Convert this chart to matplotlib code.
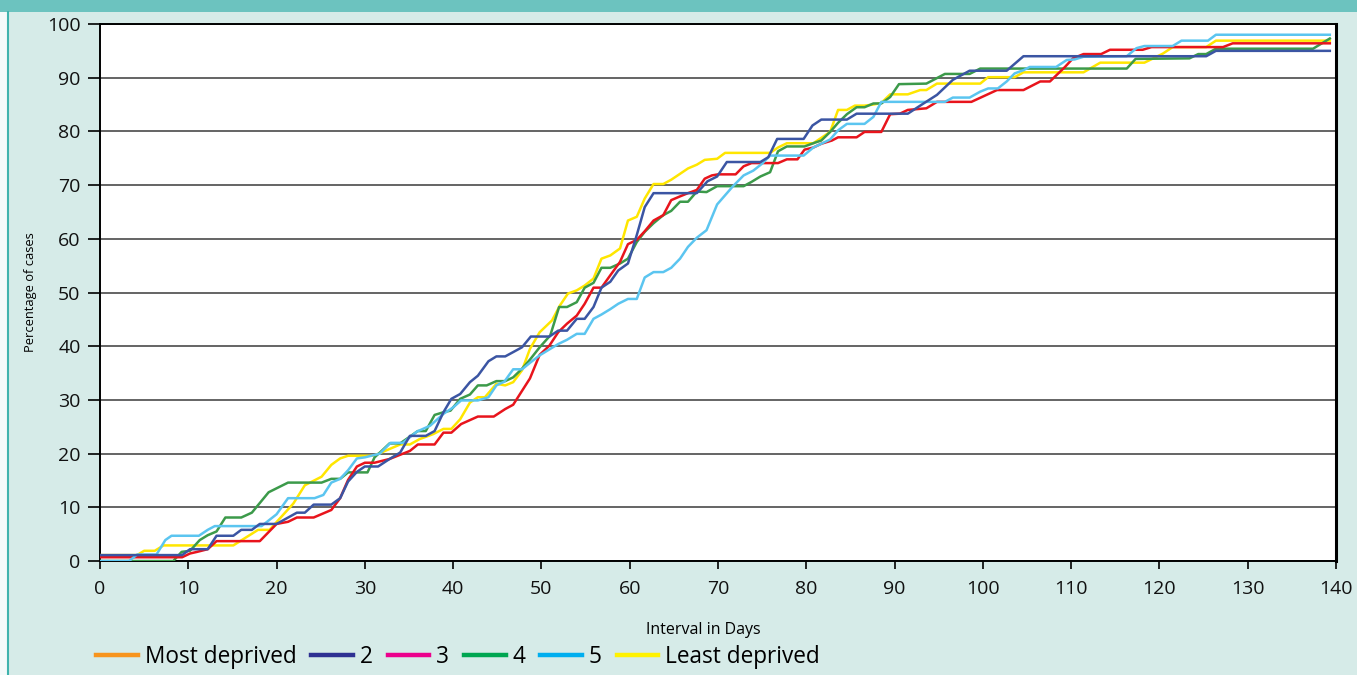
import matplotlib
matplotlib.use("Agg")
import matplotlib.pyplot as plt
from matplotlib.lines import Line2D
from matplotlib.patches import Rectangle

# ---------------- data ----------------
most_days = [0, 9.3, 10.2, 11, 12.2, 13.2, 18.1, 20, 21.3, 22.3, 24.2, 26.2, 27.2, 28.1, 29.1, 30, 31.1,
             32.8, 35.1, 36, 37.9, 38.9, 39.8, 40.9, 42.8, 44.6, 45.9, 46.8, 48.7, 49.8, 50.9, 51.9, 52.9,
             54, 54.9, 55.9, 56.8, 57.8, 58.9, 59.8, 60.8, 61.7, 62.7, 63.8, 64.7, 65.7, 66.6, 67.6, 68.5,
             69.3, 70, 72, 72.9, 73.8, 76.8, 77.8, 79, 79.8, 80.8, 81.7, 82.9, 83.6, 85.7, 86.6, 88.5, 89.5,
             90.6, 91.5, 93.6, 94.8, 98.7, 101.6, 104.6, 106.5, 107.6, 109.3, 110.2, 111.4, 113.4, 114.4,
             118.1, 119.1, 127.2, 128.3, 139.3]
most_pct = [0.7, 0.7, 1.4, 1.7, 2.2, 3.7, 3.7, 6.9, 7.3, 8.1, 8.1, 9.5, 11.7, 15.1, 17.6, 18.3, 18.3,
            19, 20.5, 21.7, 21.7, 23.9, 23.9, 25.5, 26.9, 26.9, 28.3, 29.1, 34, 38.4, 40.1, 42.6, 44.2,
            45.7, 47.9, 50.9, 50.9, 53.2, 55.7, 59.0, 59.8, 61.4, 63.4, 64.4, 67.2, 67.9, 68.5, 69.1, 71.2,
            71.8, 72, 72, 73.5, 74.1, 74.1, 74.8, 74.8, 76.6, 77, 77.7, 78.3, 78.9, 78.9, 79.9, 79.9, 83.2,
            83.3, 84, 84.3, 85.5, 85.5, 87.7, 87.7, 89.3, 89.3, 92, 93.6, 94.4, 94.4, 95.2,
            95.2, 95.7, 95.7, 96.4, 96.4]

q2_days = [0, 9.3, 10.2, 12.2, 13.2, 15.1, 16, 17.2, 18.1, 20, 22.3, 23.2, 24.2, 26.2, 27.2, 28.1, 29.1,
           30, 31.5, 32.8, 34, 35.1, 36.9, 37.9, 38.9, 39.8, 40.8, 41.9, 42.8, 44, 44.9, 45.9, 46.8, 47.8,
           48.8, 50.9, 51.9, 52.9, 54, 54.9, 55.9, 56.8, 57.8, 58.7, 59.8, 60.8, 61.7, 62.7, 67.6, 68.8,
           69.9, 71, 74.8, 75.7, 76.7, 79.7, 80.7, 81.7, 84.6, 85.7, 91.5, 92.9, 94.8, 96.6, 98.5, 102.7,
           104.6, 125.3, 126.4, 139.3]
q2_pct = [1.1, 1.1, 2.2, 2.2, 4.7, 4.7, 5.8, 5.8, 6.9, 6.9, 9.0, 9.0, 10.5, 10.5, 11.7, 14.8, 16.6,
          17.6, 17.6, 19, 20.2, 23.3, 23.3, 24.2, 27.7, 30.2, 31.1, 33.3, 34.5, 37.2, 38.1, 38.1, 38.9, 39.8,
          41.8, 41.8, 42.9, 42.9, 45.1, 45.1, 47.3, 50.9, 52, 54.1, 55.4, 60.7, 65.9, 68.5, 68.5, 70.7,
          71.6, 74.3, 74.3, 75.2, 78.6, 78.6, 81.1, 82.2, 82.2, 83.3, 83.3, 84.8, 86.8, 89.6, 91.3, 91.3,
          94, 94, 95, 95]

q4_days = [0, 8.3, 9.25, 10.2, 11.3, 12.2, 13.2, 14.2, 16, 17.2, 19.1, 21.3, 25.1, 26.2, 27.2, 28.1, 30.3,
           31.1, 31.9, 32.8, 34, 36, 36.9, 37.9, 38.9, 39.7, 40.8, 41.9, 42.8, 43.8, 44.9, 45.9, 46.8, 47.8,
           48.7, 49.8, 51, 52, 52.9, 54, 54.9, 55.9, 56.8, 57.8, 58.9, 59.8, 60.8, 61.7, 62.7, 63.8, 64.7,
           65.7, 66.6, 67.6, 68.7, 69.9, 72.9, 73.8, 74.8, 75.9, 76.8, 77.8, 79.8, 80.8, 81.7, 82.7, 83.6,
           84.6, 85.7, 86.6, 87.6, 88.5, 89.5, 90.5, 93.6, 95.7, 98.5, 99.7, 116.3, 117.3, 123.4, 124.4,
           125.3, 126.4, 137.4, 139.3]
q4_pct = [0, 0, 1.7, 1.9, 3.9, 4.8, 5.5, 8.1, 8.1, 9.0, 12.8, 14.6, 14.6, 15.3, 15.3, 16.5, 16.5,
          19.3, 20.5, 21.9, 21.9, 24.2, 24.2, 27.2, 27.7, 28, 30.2, 31, 32.7, 32.7, 33.5, 33.5, 34.2, 35.8,
          37.5, 39.8, 42, 47.3, 47.3, 48.2, 50.9, 51.8, 54.6, 54.6, 55.4, 56.3, 59.4, 61.3, 62.9, 64.4, 65.2,
          66.9, 66.9, 68.8, 68.7, 69.8, 69.8, 70.6, 71.6, 72.4, 76.3, 77.2, 77.2, 77.8, 78.3, 79.9, 81.6,
          83.2, 84.5, 84.5, 85.2, 85.2, 86.4, 88.8, 88.9, 90.7, 90.7, 91.7, 91.7, 93.5, 93.6, 94.4,
          94.4, 95.4, 95.4, 97.3]

q5_days = [0, 3.3, 4.2, 6.4, 7.4, 8.1, 11.2, 12.2, 13, 18.3, 20, 21.3, 24.3, 25.3, 26.2, 27.2, 28.1, 29.1,
           30, 31.7, 32.9, 34.3, 35.9, 37.4, 38.9, 40, 40.9, 42.8, 44, 44.9, 45.8, 46.8, 47.8, 48.7, 49.8,
           51, 51.9, 52.9, 54, 54.9, 55.9, 56.8, 57.8, 58.7, 59.8, 60.8, 61.7, 62.7, 63.8, 64.7, 65.7, 66.6,
           67.6, 68.7, 69.9, 70.8, 71.7, 72.9, 74, 75, 75.9, 79.7, 80.8, 81.7, 82.7, 83.6, 84.6, 86.6, 87.6,
           88.5, 95.7, 96.6, 98.5, 99.7, 100.6, 101.7, 102.7, 103.6, 104.6, 105.3, 108.3, 109.5, 110.4,
           111.4, 116.3, 117.4, 118.3, 121.5, 122.5, 125.5, 126.4, 139.3]
q5_pct = [0, 0, 1.2, 1.2, 3.9, 4.7, 4.7, 5.8, 6.5, 6.5, 8.7, 11.7, 11.7, 12.3, 14.6, 15.3, 16.9, 19.1,
          19.3, 20, 22, 22, 24.1, 25.2, 27.4, 28.6, 29.9, 29.9, 30.5, 32.7, 33.4, 35.7, 35.7, 36.9, 38.3,
          39.5, 40.4, 41.2, 42.3, 42.3, 45.1, 45.9, 46.9, 47.9, 48.8, 48.8, 52.8, 53.8, 53.8, 54.6, 56.3, 58.5,
          60.2, 61.6, 66.4, 68.1, 69.8, 71.8, 72.7, 74, 75.5, 75.5, 77, 77.7, 78.5, 80.2, 81.4, 81.4, 82.7,
          85.5, 85.5, 86.3, 86.3, 87.4, 88, 88, 89.3, 90.8, 91.4, 92, 92, 93.3, 93.4,
          93.9, 94, 95.5, 95.9, 95.9, 96.9, 96.9, 98, 98]

least_days = [0, 4.2, 5, 6.2, 7.2, 15.1, 17.9, 19.2, 21.9, 23.2, 25.1, 26.2, 27.2, 28.1, 31, 34, 35.1,
              36.2, 37.7, 38.9, 39.8, 40.8, 41.9, 42.8, 43.6, 44.9, 45.9, 46.8, 47.8, 48.7, 49.8, 51.2, 52.1,
              53, 54, 54.9, 55.9, 56.8, 57.8, 58.9, 59.8, 60.8, 61.7, 62.7, 63.8, 64.7, 65.7, 66.6, 67.6,
              68.5, 69.9, 70.8, 75.9, 76.8, 77.8, 80.8, 81.7, 82.7, 83.6, 84.6, 85.5, 86.6, 87.6, 88.5, 89.5,
              91.5, 92.9, 93.6, 94.8, 99.7, 100.6, 103.6, 104.6, 111.4, 113.3, 118.3, 119.3, 120.4, 121.5,
              125.3, 126.4, 139.3]
least_pct = [1.1, 1.1, 1.9, 1.9, 2.9, 2.9, 5.8, 5.8, 10.7, 14.1, 15.7, 17.9, 19.1, 19.6, 19.6, 21.7, 21.7,
             22.7, 23.6, 24.6, 24.6, 26.4, 29.5, 30.5, 30.5, 33, 32.7, 33.3, 35.5, 39.5, 42.6, 44.8, 47.6,
             49.8, 50.4, 51.3, 52.6, 56.3, 56.9, 58.2, 63.4, 64.1, 67.5, 70.2, 70.2, 71, 72.1, 73.1, 73.8,
             74.7, 74.9, 76, 76, 77, 77.8, 77.8, 78.8, 79.9, 84, 84, 84.8, 84.8, 85, 85.3, 86.9,
             86.9, 87.7, 87.7, 88.9, 88.9, 90.1, 90.1, 91, 91, 92.8, 92.8, 93.6, 94.5, 95.7,
             95.7, 96.9, 96.9]

legend_labels = ["Most deprived", "2", "3", "4", "5", "Least deprived"]
legend_colors = ["#f7941d", "#2e3192", "#ec008c", "#00a651", "#00aeef", "#fff200"]

x_ticks = list(range(0, 141, 10))
y_ticks = list(range(0, 101, 10))

# ---------------- figure ----------------
W, H = 1357, 675
fig = plt.figure(figsize=(W / 100, H / 100), dpi=100)
bg = "#d6ebe8"
fig.patch.set_facecolor(bg)
plt.rcParams["font.family"] = ["Open Sans", "DejaVu Sans"]

# decorative frame
fig.patches.append(Rectangle((0, 1 - 12 / H), 1, 12 / H, transform=fig.transFigure,
                             facecolor="#6cc3bf", edgecolor="none", zorder=0))
fig.patches.append(Rectangle((0, 0), 7 / W, 1 - 12 / H, transform=fig.transFigure,
                             facecolor="#f4fafa", edgecolor="none", zorder=0))
fig.lines.append(Line2D([7.5 / W, 7.5 / W], [0, 1 - 12 / H], transform=fig.transFigure,
                        color="#3fb3ad", lw=1.5))

ax = fig.add_axes([100 / W, 114 / H, 1236 / W, 537 / H])
ax.set_facecolor("white")

series = [
    (least_days, least_pct, "#ffe600"),
    (q4_days, q4_pct, "#3c9a4a"),
    (most_days, most_pct, "#e8141c"),
    (q5_days, q5_pct, "#5bc5f0"),
    (q2_days, q2_pct, "#3b55a3"),
]
for d, p, c in series:
    ax.plot(d, p, color=c, lw=1.8, solid_joinstyle="round", zorder=3)

ax.set_xlim(0, 140)
ax.set_ylim(0, 100)
ax.set_xticks(x_ticks)
ax.set_yticks(y_ticks)
ax.grid(axis="y", color="#3a3a3a", lw=1.1)
ax.set_axisbelow(True)
for s in ["left", "bottom", "top"]:
    ax.spines[s].set_color("black")
    ax.spines[s].set_linewidth(1.4)
ax.spines["right"].set_color("black")
ax.spines["right"].set_linewidth(2.2)

ax.tick_params(axis="y", length=9, width=1.2, pad=5, labelsize=14, colors="black")
ax.tick_params(axis="x", length=6, width=1.2, pad=8, labelsize=14, colors="black")
for lbl in ax.get_xticklabels() + ax.get_yticklabels():
    lbl.set_color("#111111")

ax.set_ylabel("Percentage of cases", fontsize=9.3)
ax.yaxis.set_label_coords(-63 / 1236, 0.5)
fig.text(703 / W, 1 - 630 / H, "Interval in Days", ha="center", va="center", fontsize=11.5)

handles = [Line2D([0], [0], color=c, lw=3.2) for c in legend_colors]
fig.legend(handles, legend_labels, loc="center left", bbox_to_anchor=(96 / W, 1 - 657 / H),
           ncol=6, frameon=False, fontsize=16.3, handlelength=1.85, handletextpad=0.3,
           columnspacing=0.65, borderaxespad=0, borderpad=0)

fig.savefig("out.png", dpi=100, facecolor=fig.get_facecolor())
